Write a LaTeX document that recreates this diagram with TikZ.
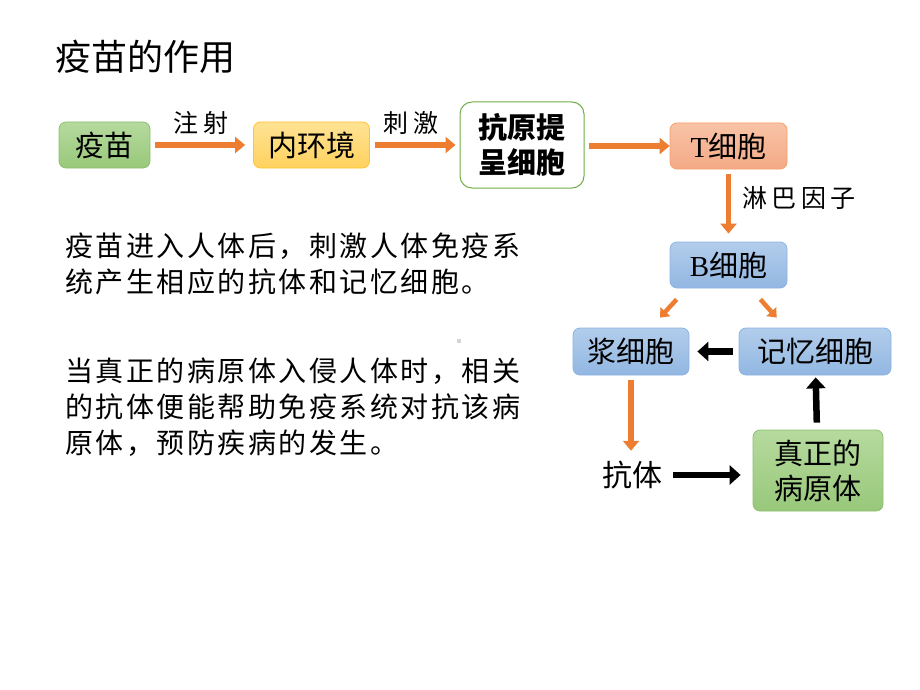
\documentclass[tikz,border=0pt]{standalone}
\usepackage{fontspec}
\setmainfont{Liberation Serif}
\newfontfamily\cjk{Noto Sans CJK SC}
\newfontfamily\cjkwide[LetterSpace=9]{Noto Sans CJK SC}
\newfontfamily\cjklabel[LetterSpace=18]{Noto Sans CJK SC}
\usepackage{xcolor}
\usetikzlibrary{arrows.meta,shadings}

\definecolor{flowor}{HTML}{ED7D31}
\definecolor{grntop}{HTML}{B6DA9E}
\definecolor{grnbot}{HTML}{98C87A}
\definecolor{grnline}{HTML}{8DC06F}
\definecolor{ylwtop}{HTML}{FFE294}
\definecolor{ylwbot}{HTML}{FFD25E}
\definecolor{ylwline}{HTML}{FFC42A}
\definecolor{redtop}{HTML}{F8C3A6}
\definecolor{redbot}{HTML}{F4A986}
\definecolor{redline}{HTML}{F5A06C}
\definecolor{blutop}{HTML}{B2CDEB}
\definecolor{blubot}{HTML}{92B7E2}
\definecolor{bluline}{HTML}{8DB3E2}
\definecolor{apcline}{HTML}{70AD47}
\definecolor{dotgray}{HTML}{D4D4D4}

\begin{document}
\begin{tikzpicture}[x=1pt,y=-1pt,line join=round,
  box/.style={draw,rounded corners=7pt,line width=0.8pt,minimum height=46pt,inner sep=0pt,
    align=center,font=\cjk\fontsize{29}{35}\selectfont},
  greenbox/.style={box,draw=grnline,top color=grntop,bottom color=grnbot},
  yellowbox/.style={box,draw=ylwline,top color=ylwtop,bottom color=ylwbot},
  redbox/.style={box,draw=redline,top color=redtop,bottom color=redbot},
  bluebox/.style={box,draw=bluline,top color=blutop,bottom color=blubot},
  apcbox/.style={box,draw=apcline,fill=white,line width=1pt,rounded corners=12pt},
  flow/.style={-{Triangle[length=10pt,width=16pt]},line width=5.5pt,draw=flowor,line cap=butt},
  smallflow/.style={-{Triangle[length=8pt,width=13pt]},line width=4.5pt,draw=flowor,line cap=butt},
  solid/.style={-{Triangle[length=11pt,width=19pt]},line width=6.5pt,draw=black,line cap=butt},
  lbl/.style={inner sep=0pt,font=\cjklabel\fontsize{25}{28}\selectfont},
  para/.style={inner sep=0pt,align=left,anchor=north west,font=\cjkwide\fontsize{28}{36}\selectfont}]
\useasboundingbox (0,0) rectangle (920,690);

\node[inner sep=0pt,font=\cjk\fontsize{36}{40}\selectfont] (ttl) at (145,57) {疫苗的作用};

\node[greenbox,minimum width=91pt] (vac) at (104.5,145) {疫苗};
\node[yellowbox,minimum width=116pt] (env) at (311.5,145) {内环境};
\node[apcbox,minimum width=124pt,minimum height=86pt] (apc) at (522,145) {\bfseries 抗原提\\\bfseries 呈细胞};
\node[redbox,minimum width=117pt] (tc) at (728.5,146) {{\rmfamily T}细胞};
\node[bluebox,minimum width=117pt] (bc) at (728.5,265) {{\rmfamily B}细胞};
\node[bluebox,minimum width=116pt,minimum height=47pt] (pc) at (631,351.5) {浆细胞};
\node[bluebox,minimum width=152pt,minimum height=47pt] (mc) at (815,351.5) {记忆细胞};
\node[greenbox,minimum width=130pt,minimum height=81pt] (germ) at (818,470.5) {真正的\\病原体};
\node[inner sep=0pt,font=\cjk\fontsize{30}{32}\selectfont] (ab) at (632,475) {抗体};

\node[lbl] (inj) at (201,123) {注射};
\node[lbl] (stim) at (411,123) {刺激};
\node[lbl] (lymph) at (799,198) {淋巴因子};

\draw[flow,shorten <=5pt,shorten >=8pt] (vac) -- (env);
\draw[flow,shorten <=5pt,shorten >=4pt] (env) -- (apc);
\draw[flow,shorten <=4pt] (apc.east |- tc) -- (tc);
\draw[flow,shorten <=5pt,shorten >=8pt] (tc) -- (bc);
\draw[smallflow] ([xshift=7pt,yshift=-11pt]bc.south west) -- ([xshift=29pt,yshift=10pt]pc.north);
\draw[smallflow] ([xshift=-27pt,yshift=-11pt]bc.south east) -- ([xshift=38pt,yshift=10pt]mc.north west);
\draw[solid,shorten <=6pt,shorten >=8pt] (mc) -- (pc);
\draw[solid,shorten <=7pt,shorten >=2pt] (germ) -- (mc);
\draw[flow,shorten <=5pt,shorten >=10pt] (pc.south) -- (pc.south |- ab.north);
\draw[solid,shorten <=11pt,shorten >=12pt] (ab.east) -- (ab.east -| germ.west);

\node[para] (txt1) at (65,233) {疫苗进入人体后，刺激人体免疫系\\统产生相应的抗体和记忆细胞。};
\node[para] (txt2) at (65,358) {当真正的病原体入侵人体时，相关\\的抗体便能帮助免疫系统对抗该病\\原体，预防疾病的发生。};
\fill[dotgray] (457,339) rectangle (461,343);
\end{tikzpicture}
\end{document}
